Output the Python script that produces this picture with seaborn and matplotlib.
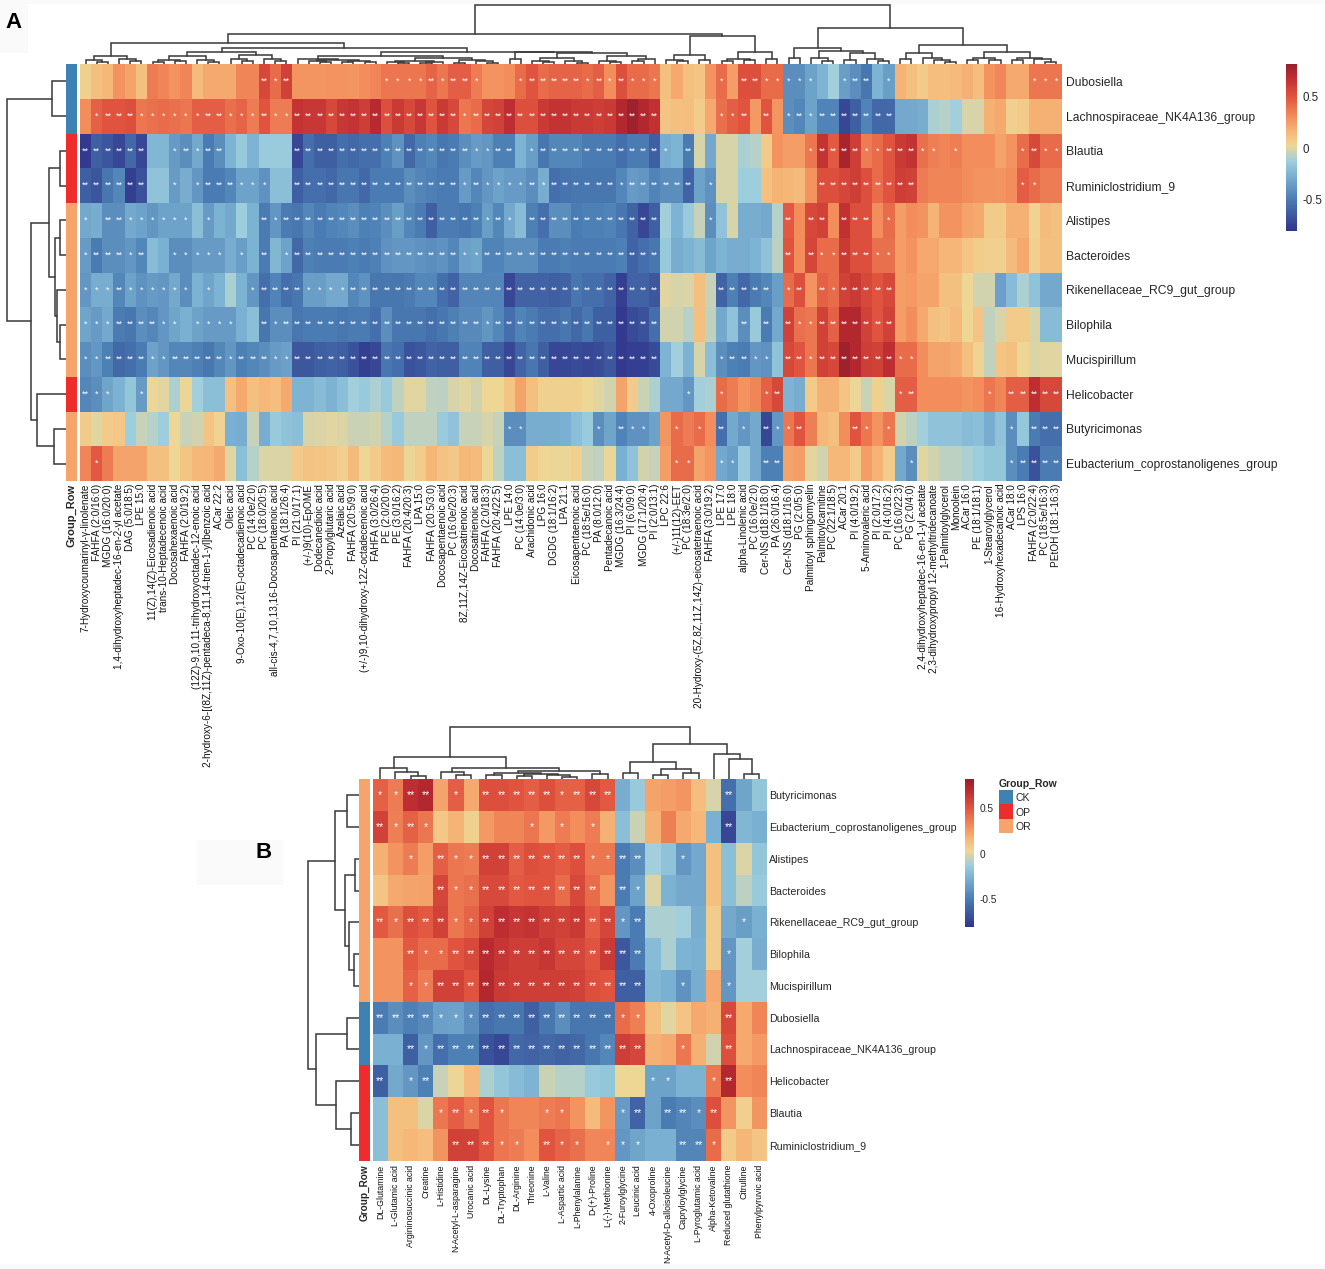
import numpy as np
import matplotlib
matplotlib.use('Agg')
import matplotlib.pyplot as plt
import seaborn as sns
from matplotlib.colors import LinearSegmentedColormap, ListedColormap
from matplotlib.patches import Rectangle

W, H = 1325, 1269

# ---- panel A data
a_rows = ['Dubosiella', 'Lachnospiraceae_NK4A136_group', 'Blautia', 'Ruminiclostridium_9', 'Alistipes',
          'Bacteroides', 'Rikenellaceae_RC9_gut_group', 'Bilophila', 'Mucispirillum', 'Helicobacter',
          'Butyricimonas', 'Eubacterium_coprostanoligenes_group']
a_groups = ['CK', 'CK', 'OP', 'OP', 'OR', 'OR', 'OR', 'OR', 'OR', 'OP', 'OR', 'OR']
a_cols = ['7-Hydroxycoumarinyl-γ-linolenate', 'FAHFA (2:0/16:0)', 'MGDG (16:0/20:0)',
          '1,4-dihydroxyheptadec-16-en-2-yl acetate', 'DAG (5:0/18:5)', 'LPE 15:0',
          '11(Z),14(Z)-Eicosadienoic acid', 'trans-10-Heptadecenoic acid', 'Docosahexaenoic acid',
          'FAHFA (2:0/19:2)', '(12Z)-9,10,11-trihydroxyoctadec-12-enoic acid',
          '2-hydroxy-6-[(8Z,11Z)-pentadeca-8,11,14-trien-1-yl]benzoic acid', 'ACar 22:2', 'Oleic acid',
          '9-Oxo-10(E),12(E)-octadecadienoic acid', 'PC (14:0e/2:0)', 'PC (18:0/20:5)',
          'all-cis-4,7,10,13,16-Docosapentaenoic acid', 'PA (18:1/26:4)', 'PI (21:0/17:1)',
          '(+/-)9(10)-EpOME', 'Dodecanedioic acid', '2-Propylglutaric acid', 'Azelaic acid',
          'FAHFA (20:5/9:0)', '(+/-)9,10-dihydroxy-12Z-octadecenoic acid', 'FAHFA (3:0/26:4)',
          'PE (2:0/20:0)', 'PE (3:0/16:2)', 'FAHFA (20:4/20:3)', 'LPA 15:0', 'FAHFA (20:5/3:0)',
          'Docosapentaenoic acid', 'PC (16:0e/20:3)', '8Z,11Z,14Z-Eicosatrienoic acid',
          'Docosatrienoic acid', 'FAHFA (2:0/18:3)', 'FAHFA (20:4/22:5)', 'LPE 14:0', 'PC (14:0e/3:0)',
          'Arachidonic acid', 'LPG 16:0', 'DGDG (18:1/16:2)', 'LPA 21:1', 'Eicosapentaenoic acid',
          'PC (18:5e/16:0)', 'PA (8:0/12:0)', 'Pentadecanoic acid', 'MGDG (16:3/24:4)', 'PI (6:0/9:0)',
          'MGDG (17:1/20:4)', 'PI (2:0/13:1)', 'LPC 22:6', '(+/-)11(12)-EET', 'PC (18:3e/2:0)',
          '20-Hydroxy-(5Z,8Z,11Z,14Z)-eicosatetraenoic acid', 'FAHFA (3:0/19:2)', 'LPE 17:0', 'LPE 18:0',
          'alpha-Linolenic acid', 'PC (16:0e/2:0)', 'Cer-NS (d18:1/18:0)', 'PA (26:0/16:4)',
          'Cer-NS (d18:1/16:0)', 'PG (2:0/5:0)', 'Palmitoyl sphingomyelin', 'Palmitoylcarnitine',
          'PC (22:1/18:5)', 'ACar 20:1', 'PI (4:0/19:2)', '5-Aminovaleric acid', 'PI (2:0/17:2)',
          'PI (4:0/16:2)', 'PC (16:0/22:3)', 'PG (2:0/4:0)', '2,4-dihydroxyheptadec-16-en-1-yl acetate',
          '2,3-dihydroxypropyl 12-methyltridecanoate', '1-Palmitoylglycerol', 'Monoolein', 'ACar 16:0',
          'PE (18:1/18:1)', '1-Stearoylglycerol', '16-Hydroxyhexadecanoic acid', 'ACar 18:0', 'LPS 16:0',
          'FAHFA (2:0/22:4)', 'PC (18:5e/16:3)', 'PEtOH (18:1-16:3)']

a_dubosiella = [.05, .12, .15, .28, .22, .12, .36, .33, .28, .33,
                .14, .2, .2, .2, .33, .33, .55, .42, .58, .27,
                .27, .27, .28, .28, .27, .3, .33, .38, .38, .38,
                .38, .44, .38, .46, .46, .36, .28, .28, .3, .42,
                .5, .42, .44, .44, .44, .42, .46, .3, .52, .42,
                .42, .38, .12, .2, .12, .1, .28, .42, .25, .52,
                .52, .42, .42, -.42, -.42, -.33, -.25, -.12, -.35, -.42,
                -.52, -.25, -.35, .17, .12, .08, .13, .13, .14, .18,
                .13, .28, .32, .2, .2, .38, .38, .38]
a_lachno = [.3, .45, .5, .5, .52, .38, .4, .42, .4, .38,
            .46, .46, .46, .4, .44, .36, .5, .36, .36, .65,
            .63, .63, .55, .63, .65, .6, .7, .52, .62, .55,
            .63, .5, .62, .55, .38, .42, .56, .58, .68, .52,
            .52, .62, .65, .65, .62, .62, .6, .62, .72, .78,
            .72, .66, .1, .12, .13, .07, .2, .4, .46, .5,
            .26, .5, .27, -.42, -.45, -.33, -.47, -.47, -.72, -.62,
            -.47, -.58, -.58, -.3, -.3, -.28, -.1, -.08, -.12, -.02,
            -.02, .18, .2, .06, .08, .18, .18, .18]
a_blautia = [-.78, -.62, -.66, -.72, -.58, -.72, -.24, -.24, -.36, -.42,
             -.3, -.5, -.42, -.25, -.15, -.25, -.14, -.14, -.14, -.72,
             -.55, -.62, -.62, -.55, -.58, -.55, -.55, -.48, -.4, -.58,
             -.48, -.45, -.52, -.5, -.42, -.36, -.38, -.48, -.48, -.25,
             -.35, -.52, -.45, -.45, -.45, -.5, -.5, -.5, -.55, -.5,
             -.5, -.62, -.28, -.25, -.5, -.02, -.3, -.02, -.02, -.1,
             -.08, .08, .28, .25, .25, .38, .65, .48, .75, .6,
             .36, .42, .5, .62, .65, .4, .35, .33, .35, .3,
             .3, .3, .22, .28, .42, .55, .42, .42]
a_rumin = [-.62, -.66, -.52, -.45, -.75, -.68, -.18, -.18, -.36, -.28,
           -.38, -.5, -.5, -.45, -.33, -.33, -.4, -.2, -.2, -.62,
           -.55, -.55, -.58, -.52, -.52, -.58, -.5, -.5, -.5, -.42,
           -.46, -.48, -.5, -.5, -.36, -.45, -.38, -.33, -.36, -.36,
           -.42, -.28, -.55, -.53, -.52, -.52, -.52, -.52, -.45, -.36,
           -.38, -.47, -.42, -.42, -.6, -.33, -.4, -.02, -.02, -.13,
           -.13, .12, .17, .16, .14, .28, .52, .52, .56, .6,
           .52, .42, .5, .6, .58, .36, .33, .33, .33, .3,
           .28, .28, .27, .3, .47, .42, .36, .36]
a_alistipes = [-.3, -.28, -.42, -.42, -.3, -.33, -.38, -.33, -.33, -.33,
               -.2, -.36, -.26, -.3, -.13, -.26, -.5, -.38, -.5, -.52,
               -.45, -.5, -.47, -.45, -.42, -.48, -.47, -.42, -.35, -.45,
               -.5, -.62, -.5, -.5, -.52, -.48, -.35, -.45, -.3, -.22,
               -.48, -.55, -.42, -.42, -.5, -.48, -.48, -.47, -.52, -.6,
               -.72, -.62, -.12, -.25, -.15, -.05, -.42, -.18, -.02, -.28,
               -.28, -.3, -.08, .48, .3, .55, .58, .3, .66, .52,
               .52, .3, .42, .25, .3, .28, .17, .28, .28, .22,
               .2, .08, .08, .18, .18, .04, .14, .12]
a_bacteroides = [-.36, -.5, -.42, -.42, -.38, -.45, -.22, -.27, -.42, -.42,
                 -.36, -.36, -.36, -.28, -.35, -.26, -.5, -.24, -.33, -.58,
                 -.48, -.5, -.5, -.5, -.48, -.5, -.48, -.4, -.38, -.38,
                 -.4, -.42, -.4, -.45, -.34, -.32, -.47, -.47, -.42, -.42,
                 -.42, -.5, -.5, -.48, -.5, -.5, -.5, -.5, -.48, -.6,
                 -.55, -.52, -.15, -.28, -.25, -.22, -.32, -.25, -.28, -.28,
                 -.25, -.18, -.07, .5, .3, .56, .42, .42, .62, .52,
                 .52, .4, .4, .25, .28, .2, .2, .16, .16, .1,
                 .07, .06, .06, .14, .2, .06, .12, .12]
a_rikenella = [-.38, -.28, -.28, -.45, -.33, -.4, -.36, -.38, -.3, -.42,
               -.26, -.32, -.25, -.1, -.26, -.38, -.55, -.47, -.55, -.52,
               -.35, -.35, -.3, -.3, -.45, -.4, -.52, -.52, -.52, -.5,
               -.45, -.45, -.55, -.6, -.46, -.46, -.46, -.46, -.72, -.6,
               -.6, -.6, -.62, -.6, -.52, -.55, -.55, -.6, -.75, -.6,
               -.6, -.65, 0, -.02, -.01, .12, -.05, -.6, -.48, -.58,
               -.5, -.45, -.35, .42, .52, .28, .45, .42, .58, .62,
               .55, .5, .55, .25, .26, .22, .22, .12, .12, .03,
               -.03, -.03, -.34, -.22, -.1, -.18, -.3, -.3]
a_bilophila = [-.32, -.36, -.3, -.5, -.52, -.42, -.45, -.38, -.32, -.27,
               -.33, -.36, -.36, -.36, -.27, -.2, -.52, -.42, -.42, -.52,
               -.5, -.5, -.5, -.52, -.5, -.5, -.55, -.42, -.52, -.52,
               -.52, -.55, -.52, -.48, -.44, -.44, -.38, -.45, -.55, -.47,
               -.5, -.55, -.55, -.52, -.58, -.52, -.62, -.62, -.78, -.7,
               -.68, -.55, -.03, -.03, -.08, .12, -.06, -.3, -.18, -.42,
               -.15, -.5, -.3, .58, .4, .38, .58, .45, .72, .72,
               .58, .5, .58, .25, .3, .2, .12, .1, .14, .03,
               .1, -.06, -.02, .08, .08, -.02, -.22, -.22]
a_mucispirillum = [-.42, -.38, -.48, -.58, -.55, -.5, -.33, -.38, -.45, -.45,
                   -.48, -.52, -.45, -.38, -.48, -.45, -.42, -.36, -.34, -.65,
                   -.65, -.62, -.6, -.62, -.68, -.75, -.72, -.52, -.55, -.68,
                   -.65, -.6, -.62, -.62, -.47, -.47, -.62, -.62, -.72, -.6,
                   -.52, -.62, -.72, -.72, -.7, -.72, -.7, -.65, -.78, -.75,
                   -.75, -.7, -.25, -.12, -.26, -.02, -.2, -.42, -.48, -.5,
                   -.38, -.4, -.18, .55, .5, .38, .58, .55, .78, .72,
                   .6, .58, .68, .42, .42, .3, .22, .22, .2, .12,
                   .04, -.06, .1, .12, .03, -.01, 0, 0]
a_helicobacter = [-.45, -.42, -.32, -.26, -.17, -.36, .02, 0, -.1, .02,
                  -.12, -.2, -.2, .12, .2, .12, .15, .13, .2, -.25,
                  -.25, -.22, -.26, -.2, -.12, -.15, -.1, -.15, -.06, 0,
                  0, -.06, -.07, -.02, 0, -.03, .03, .03, .1, .22,
                  .12, .05, .05, .05, .05, .03, 0, -.03, .22, .08,
                  -.04, -.1, -.3, -.3, -.38, -.12, -.1, .42, .36, .28,
                  .33, .45, .55, -.25, -.28, .08, .18, .18, .1, .02,
                  -.04, .05, -.01, .46, .46, .3, .3, .3, .3, .28,
                  .3, .38, .33, .46, .46, .68, .55, .55]
a_butyricimonas = [.08, 0, .08, .09, -.13, -.05, -.08, -.13, .03, -.05,
                   -.03, .1, .04, -.27, -.28, -.05, -.28, -.15, -.18, -.2,
                   -.02, -.01, 0, -.01, -.04, -.04, -.03, -.08, -.15, -.06,
                   -.06, -.06, -.14, -.18, -.05, -.05, -.02, -.05, -.42, -.42,
                   -.28, -.28, -.28, -.27, -.2, -.14, -.42, -.32, -.47, -.4,
                   -.4, -.33, .27, .42, .36, .42, .3, -.55, -.3, -.38,
                   -.3, -.72, -.38, .38, .5, .35, .15, .12, .3, .5,
                   .38, .28, .38, -.03, -.07, -.12, -.18, -.18, -.18, -.22,
                   -.2, -.28, -.18, -.42, -.16, -.5, -.55, -.55]
a_eubacterium = [.33, .48, .36, .22, .22, .22, .12, .12, .03, .1,
                 .15, .16, .2, 0, -.2, -.08, -.01, -.01, -.01, .08,
                 .11, .1, .09, .06, .14, .03, .08, .14, .15, .02,
                 .07, .16, .11, .09, .15, .14, .03, -.06, -.2, -.2,
                 .07, .03, .02, .02, .05, -.05, -.06, .02, -.27, -.18,
                 -.03, -.05, .25, .42, .42, .22, .27, -.3, -.35, -.15,
                 -.3, -.48, -.48, .22, .25, .01, -.03, .15, .15, .08,
                 .25, .17, .07, -.3, -.42, 0, -.03, -.07, -.07, -.1,
                 -.13, -.17, -.17, -.42, -.5, -.68, -.5, -.5]

# 0 none, 1 one star, 2 two stars
a_sig = ['0000000000' '0000002120' '0000000111' '1212210001' '2222212121' '1100000102' '2111110012' '2010000000' '00000111',
         '0122211111' '1221112112' '2222222222' '2222122222' '2222222222' '2200000112' '0201212222' '2220000000' '00000000',
         '2222220012' '1220000002' '2222222222' '2222211220' '1222222222' '2210200000' '0000012222' '1122211010' '00001211',
         '2222220010' '1222111002' '2222222222' '2222121111' '2122222212' '2222201000' '0000002222' '2222200000' '00001100',
         '1022111111' '0100002122' '2222222222' '2222221210' '2222222222' '2200001000' '0002022022' '2010000000' '00000000',
         '1222120011' '1110102012' '2222222222' '2222112222' '2222222222' '2200000000' '0002021122' '2110000000' '00000000',
         '1112111111' '0100012222' '1111222222' '2222222222' '2222222222' '2200000222' '2201202122' '2220000000' '00000000',
         '1112222110' '1111002122' '2222222222' '2222221222' '2222222222' '2200000002' '0202112222' '2220000000' '00000000',
         '1122221122' '2221222112' '2222222222' '2222222222' '2222222222' '2200000122' '1102212222' '2221100000' '00000000',
         '2110010000' '0000000000' '0000000000' '0000000000' '0000000000' '0000100100' '0120000000' '0001200000' '01022222',
         '0000000000' '0000000000' '0000000000' '0000000011' '0000001021' '1001010201' '0211200002' '1010000000' '00010222',
         '0100000000' '0000000000' '0000000000' '0000000000' '0000000000' '0001100110' '0220000000' '0000100000' '00012222']

# dendrograms: (merge height in px, left, right), 0 is a leaf
a_col_tree = (58.7,
              (30,
               (20.7,
                (8.3, (4, 0, (2.5, 0, 0)), (5, 0, (3, 0, 0))),
                (16.3,
                 (11.7,
                  (8, (4.5, (2, 0, 0), (3, 0, 0)), (4, 0, (2.5, 0, 0))),
                  (9, (5, 0, (3, 0, 0)), (5, 0, (3, 0, 0)))),
                 (12.3,
                  (8.3,
                   (4.7, 0, (4, (3, 0, (2, 0, 0)), (3.5, (2.5, 0, 0), (2.5, 0, 0)))),
                   (6, (3.5, (2.5, 0, (1.5, 0, 0)), (2.5, (1.5, 0, 0), 0)),
                    (4, (1.5, 0, 0), (3, 0, (1.5, 0, 0))))),
                  (12,
                   (4.7, 0, 0),
                   (10.7,
                    (6, (3, 0, (2, 0, 0)), (3.5, 0, (1.5, 0, 0))),
                    (8, (3.5, 0, (2, 0, 0)), (5, (3, 0, 0), 0))))))),
               (28,
                (9, (4, 0, (3, 0, 0)), (4.5, 0, 0)),
                (12, (5.5, (3.5, 0, 0), (4.5, 0, 0)), (5.5, 0, 0)))),
              (35.7,
               (15.7,
                (5.7, 0, 0),
                (13, (6, 0, (3.5, 0, 0)), (11, (4.5, 0, 0), (5.5, 0, (3.5, 0, 0))))),
               (19,
                (11.3, (4.7, 0, 0), (6, 0, (4, 0, (2, 0, 0)))),
                (12.3, (6, (4, 0, 0), (4.5, 0, 0)), (6.5, (4.5, 0, 0), (5, 0, (2, 0, 0)))))))
a_row_tree = (59, (13.3, 0, 0),
              (34.3,
               (16.7, (6, 0, 0), (10.7, (5.7, 0, 0), (8.3, 0, (6, 0, 0)))),
               (28.3, 0, (11.7, 0, 0))))

# ---- panel B data
b_rows = ['Butyricimonas', 'Eubacterium_coprostanoligenes_group', 'Alistipes', 'Bacteroides',
          'Rikenellaceae_RC9_gut_group', 'Bilophila', 'Mucispirillum', 'Dubosiella',
          'Lachnospiraceae_NK4A136_group', 'Helicobacter', 'Blautia', 'Ruminiclostridium_9']
b_groups = ['OR', 'OR', 'OR', 'OR', 'OR', 'OR', 'OR', 'CK', 'CK', 'OP', 'OP', 'OP']
b_cols = ['DL-Glutamine', 'L-Glutamic acid', 'Argininosuccinic acid', 'Creatine', 'L-Histidine',
          'N-Acetyl-L-asparagine', 'Urocanic acid', 'DL-Lysine', 'DL-Tryptophan', 'DL-Arginine',
          'Threonine', 'L-Valine', 'L-Aspartic acid', 'L-Phenylalanine', 'D-(+)-Proline',
          'L-(-)-Methionine', '2-Furoylglycine', 'Leucinic acid', '4-Oxoproline',
          'N-Acetyl-D-alloisoleucine', 'Capryloylglycine', 'L-Pyroglutamic acid', 'Alpha-Ketovaline',
          'Reduced glutathione', 'Citrulline', 'Phenylpyruvic acid']

b_butyricimonas = [.45, .36, .68, .72, .22, .46, .2, .52, .52, .5, .46, .52, .45, .45, .55, .48,
                   -.28, -.15, .22, .25, .27, .13, -.02, -.55, -.32, -.17]
b_eubacterium = [.58, .35, .45, .38, .09, .17, .05, .26, .33, .33, .38, .26, .36, .3, .36, .18,
                 -.2, -.04, .18, .35, .2, .15, -.27, -.72, -.24, -.27]
b_alistipes = [.18, .28, .36, .25, .46, .38, .36, .58, .58, .46, .52, .5, .47, .52, .38, .38,
               -.5, -.42, -.12, -.18, -.38, -.3, .12, -.2, -.01, -.17]
b_bacteroides = [.1, .2, .22, .23, .56, .38, .4, .54, .54, .48, .5, .5, .42, .55, .42, .27,
                 -.5, -.33, -.01, -.26, -.3, -.3, .12, -.2, -.07, -.15]
b_rikenella = [.48, .4, .52, .48, .58, .38, .44, .58, .68, .64, .65, .6, .58, .62, .47, .56,
               -.38, -.5, -.1, -.1, -.12, -.28, .07, -.3, -.35, -.27]
b_bilophila = [.28, .28, .48, .42, .42, .5, .54, .7, .64, .6, .6, .64, .56, .56, .5, .62,
               -.65, -.5, -.22, -.1, -.25, -.27, .07, -.38, -.12, -.28]
b_mucispirillum = [.28, .28, .45, .36, .58, .58, .5, .72, .62, .6, .6, .6, .6, .58, .52, .5,
                   -.62, -.62, -.23, -.27, -.4, -.28, .2, -.38, -.12, -.12]
b_dubosiella = [-.5, -.42, -.48, -.44, -.34, -.33, -.42, -.55, -.52, -.52, -.62, -.52, -.42, -.52, -.52, -.52,
                .42, .35, .12, 0, .1, .2, .18, .55, .2, .33]
b_lachno = [-.27, -.27, -.62, -.38, -.55, -.48, -.48, -.68, -.72, -.58, -.6, -.58, -.6, -.58, -.52, -.45,
            .6, .56, .18, .2, .38, .18, -.03, .52, .2, .26]
b_helicobacter = [-.62, -.3, -.38, -.48, -.05, .02, .14, -.1, -.17, -.22, -.25, -.04, -.08, -.08, -.15, -.17,
                  .03, .03, -.33, -.33, -.26, -.26, .38, .72, .3, .33]
b_blautia = [-.2, .12, .12, -.01, .38, .46, .38, .5, .38, .33, .33, .36, .38, .28, .14, .27,
             -.36, -.6, -.33, -.5, -.46, -.42, .52, .27, .06, .27]
b_rumin = [-.2, .12, .15, .13, .28, .58, .58, .5, .38, .36, .3, .5, .44, .4, .32, .33,
           -.38, -.32, -.27, -.27, -.46, -.46, .42, .08, .16, .1]

b_sig = ['11220102222212220000000200', '21210000001010100000000200', '00102112222222112200100000',
         '00002112222222202100000000', '21222112222222221200000010', '00211222222222222200000100',
         '00112222222222222200100100', '22221112222222221100000200', '00212222222222222200100200',
         '20120000000000000011001200', '00001212100110001202212000', '00000222110211011100221000']

b_col_tree = (52,
              (22,
               (11, 0, (7.6, 0, (3.6, 0, 0))),
               (11.6,
                (7, 0, (4, 0, 0)),
                (8.5,
                 (6.5, (4, 0, 0), (5, (3, 0, 0), (4, 0, (2, 0, 0)))),
                 (5.3, 0, 0)))),
              (35,
               (17, (6, 0, 0), (10, (4, 0, 0), (6, 0, 0))),
               (25, 0, (20, 0, (5, 0, 0)))))
b_row_tree = (51,
              (24.5, (12, 0, 0), (14, (4, 0, 0), (10, 0, (5, 0, 0)))),
              (43, (12, 0, 0), (23, 0, (8, 0, 0))))

group_names = ['CK', 'OP', 'OR']
group_colors = ['#3d82b3', '#ee2c2c', '#f5a56c']


def make_axes(fig, x0, y0, x1, y1):
    return fig.add_axes([x0 / W, 1 - y1 / H, (x1 - x0) / W, (y1 - y0) / H])


def draw_tree(ax, node, counter, vertical):
    if node == 0:
        counter[0] += 1
        return counter[0] - 0.5, 0
    h, left, right = node
    p1, h1 = draw_tree(ax, left, counter, vertical)
    p2, h2 = draw_tree(ax, right, counter, vertical)
    if vertical:
        ax.plot([p1, p1, p2, p2], [h1, h, h, h2], color='#383838', lw=1.1, solid_joinstyle='miter')
    else:
        ax.plot([h1, h, h, h2], [p1, p1, p2, p2], color='#383838', lw=1.1, solid_joinstyle='miter')
    return (p1 + p2) / 2, h


def star_labels(sig):
    return np.array([['*' * int(c) for c in row] for row in sig])


def draw_panel(fig, values, sig, rows, cols, groups, col_tree, row_tree, box, bar, cbar_box,
               col_top, row_left, row_size, col_size, star_size, group_size, tick_pad, row_pad):
    x0, y0, x1, y1 = box
    values = np.array(values)
    ax = make_axes(fig, x0, y0, x1, y1)
    cax = make_axes(fig, *cbar_box)
    sns.heatmap(values, ax=ax, cmap=cmap, vmin=-0.8, vmax=0.81, annot=star_labels(sig), fmt='',
                annot_kws={'color': 'white', 'fontsize': star_size},
                xticklabels=cols, yticklabels=rows, cbar_ax=cax, cbar_kws={'ticks': [0.5, 0, -0.5]})
    ax.yaxis.tick_right()
    ax.tick_params(axis='x', length=0, pad=tick_pad, labelsize=col_size, labelrotation=90)
    ax.tick_params(axis='y', length=0, pad=row_pad, labelsize=row_size, labelrotation=0)
    for t in ax.get_xticklabels():
        t.set_color('#111111')
    cax.set_yticks([0.5, 0, -0.5], ['0.5', '0', '-0.5'])
    cax.tick_params(length=0, pad=4, labelsize=row_size - 0.4)
    ax.collections[0].colorbar.outline.set_visible(False)

    # group bar
    gax = make_axes(fig, bar[0], y0, bar[1], y1)
    codes = np.array([[group_names.index(g)] for g in groups])
    sns.heatmap(codes, ax=gax, cmap=ListedColormap(group_colors), vmin=0, vmax=2, cbar=False,
                xticklabels=['Group_Row'], yticklabels=False)
    gax.tick_params(axis='x', length=0, pad=tick_pad, labelsize=group_size, labelrotation=90)
    for t in gax.get_xticklabels():
        t.set_fontweight('bold')

    # dendrograms
    tax = make_axes(fig, x0, col_top, x1, y0)
    tax.set_xlim(0, len(cols))
    tax.set_ylim(0, y0 - col_top)
    draw_tree(tax, col_tree, [0], True)
    tax.axis('off')
    lax = make_axes(fig, row_left, y0, bar[0], y1)
    lax.set_xlim(bar[0] - row_left, 0)
    lax.set_ylim(len(rows), 0)
    draw_tree(lax, row_tree, [0], False)
    lax.axis('off')


sns.set_theme(style='white')
plt.rcParams['font.family'] = ['Liberation Sans', 'DejaVu Sans']

cmap = LinearSegmentedColormap.from_list('rdylbu_soft', [
    (0.0, '#30358c'), (0.186, '#4a7cb3'), (0.34, '#7eb4d3'), (0.42, '#9fcfde'),
    (0.48, '#d2d3ae'), (0.515, '#efd694'), (0.59, '#f6b97a'), (0.68, '#f38f5d'),
    (0.807, '#e0533e'), (0.93, '#bb2a30'), (1.0, '#96202c')])

fig = plt.figure(figsize=(W / 100, H / 100), dpi=100, facecolor='white')

# faint scan blocks behind the panel letters and along the edges
for (bx0, by0, bx1, by1) in [(0, 0, W, 4), (0, 0, 28, 53), (197, 840, 283, 885), (0, 1264, W, H)]:
    fig.add_artist(Rectangle((bx0 / W, 1 - by1 / H), (bx1 - bx0) / W, (by1 - by0) / H,
                             transform=fig.transFigure, color='#fafafa', lw=0, zorder=-5))

a_values = [a_dubosiella, a_lachno, a_blautia, a_rumin, a_alistipes, a_bacteroides, a_rikenella,
            a_bilophila, a_mucispirillum, a_helicobacter, a_butyricimonas, a_eubacterium]
b_values = [b_butyricimonas, b_eubacterium, b_alistipes, b_bacteroides, b_rikenella, b_bilophila,
            b_mucispirillum, b_dubosiella, b_lachno, b_helicobacter, b_blautia, b_rumin]

draw_panel(fig, a_values, a_sig, a_rows, a_cols, a_groups, a_col_tree, a_row_tree,
           box=(80, 64, 1062, 481), bar=(65.7, 76.7), cbar_box=(1286.4, 64, 1297.4, 231),
           col_top=0, row_left=0, row_size=8.7, col_size=7.2, star_size=6.5, group_size=8,
           tick_pad=2, row_pad=3)
draw_panel(fig, b_values, b_sig, b_rows, b_cols, b_groups, b_col_tree, b_row_tree,
           box=(372.7, 779.3, 766.7, 1160.7), bar=(359.3, 370), cbar_box=(964.7, 779.3, 974.3, 927),
           col_top=725, row_left=300, row_size=7.7, col_size=6.3, star_size=7.5, group_size=7.2,
           tick_pad=3, row_pad=1.5)

fig.text(13 / W, 1 - 22 / H, 'A', fontsize=16, fontweight='bold', ha='center', va='center', color='black')
fig.text(264 / W, 1 - 853 / H, 'B', fontsize=16, fontweight='bold', ha='center', va='center', color='black')

# group key as a small three cell heatmap
kax = make_axes(fig, 999, 790, 1013, 833)
sns.heatmap(np.array([[0], [1], [2]]), ax=kax, cmap=ListedColormap(group_colors), vmin=0, vmax=2, cbar=False,
            xticklabels=False, yticklabels=group_names)
kax.yaxis.tick_right()
kax.tick_params(axis='y', length=0, pad=2, labelsize=7.5, labelrotation=0)
kax.set_title('Group_Row', loc='left', fontsize=7.5, fontweight='bold', pad=2.5)

fig.savefig('out.png', dpi=100)
